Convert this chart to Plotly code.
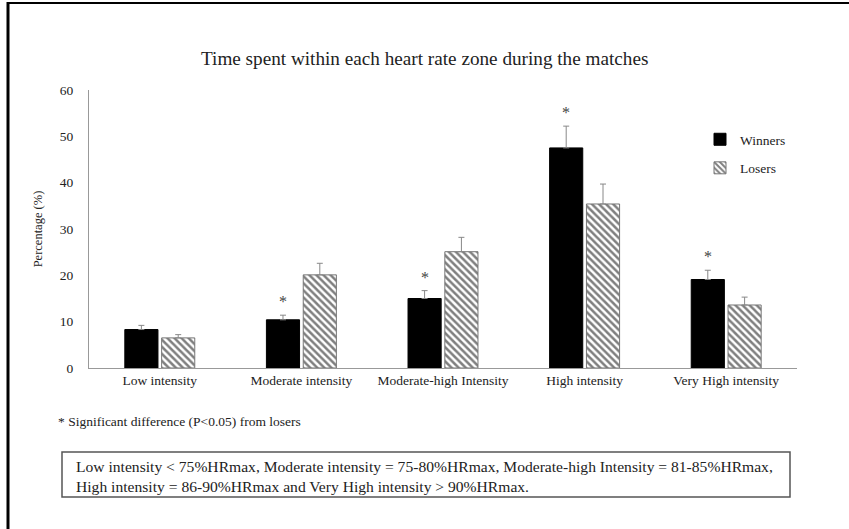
import plotly.graph_objects as go

categories = ["Low intensity", "Moderate intensity", "Moderate-high Intensity",
              "High intensity", "Very High intensity"]
winners = [8.3, 10.4, 15.0, 47.5, 19.1]
winners_err = [0.9, 1.0, 1.7, 4.7, 2.0]
losers = [6.5, 20.1, 25.1, 35.4, 13.6]
losers_err = [0.7, 2.5, 3.1, 4.3, 1.7]
significant = [False, True, True, True, True]

title = "Time spent within each heart rate zone during the matches"
y_title = "Percentage (%)"
footnote = "* Significant difference (P<0.05) from losers"
def_line1 = ("Low intensity < 75%HRmax, Moderate intensity = 75-80%HRmax, "
             "Moderate-high Intensity = 81-85%HRmax,")
def_line2 = "High intensity = 86-90%HRmax and Very High intensity > 90%HRmax."

W, H = 849, 529
L, R, T, B = 89, 797, 90, 368   # plot area in pixels
FONT = "Liberation Serif"

def px(xp):
    return (xp - L) / (R - L)

def py(yp):
    return (B - yp) / (B - T)

xs = list(range(len(categories)))
bargap = 0.48
groupgap = 0.1
slot = (1 - bargap) / 2

fig = go.Figure()
fig.add_trace(go.Bar(
    x=xs, y=winners, name="Winners",
    marker=dict(color="black", line=dict(color="black", width=1)),
    error_y=dict(type="data", array=winners_err, arrayminus=[0] * len(xs),
                 symmetric=False, color="#888888", thickness=1, width=3),
    legendgroup="w",
))
fig.add_trace(go.Bar(
    x=xs, y=losers, name="Losers",
    marker=dict(color="white", line=dict(color="#777777", width=1),
                pattern=dict(shape="\\", fgcolor="black", bgcolor="white",
                             size=5, solidity=0.5)),
    error_y=dict(type="data", array=losers_err, arrayminus=[0] * len(xs),
                 symmetric=False, color="#888888", thickness=1, width=3),
    legendgroup="l",
))

# significance stars above winners' error bars
for i, sig in enumerate(significant):
    if sig:
        fig.add_annotation(
            x=xs[i] - slot / 2, y=winners[i] + winners_err[i],
            xref="x", yref="y", text="*", showarrow=False,
            yanchor="bottom", yshift=3,
            font=dict(family=FONT, size=16, color="#444444"))

fig.add_annotation(x=px(424), xref="paper", y=py(58), yref="paper",
                   text=title, showarrow=False, xanchor="center", yanchor="middle",
                   font=dict(family=FONT, size=19.2, color="#222222"))
fig.add_annotation(x=px(56), xref="paper", y=py(421), yref="paper",
                   text=footnote, showarrow=False, xanchor="left", yanchor="middle",
                   font=dict(family=FONT, size=13.5, color="#222222"))
fig.add_annotation(x=px(74), xref="paper", y=py(466), yref="paper",
                   text=def_line1, showarrow=False, xanchor="left", yanchor="middle",
                   font=dict(family=FONT, size=15.6, color="#222222"))
fig.add_annotation(x=px(74), xref="paper", y=py(486), yref="paper",
                   text=def_line2, showarrow=False, xanchor="left", yanchor="middle",
                   font=dict(family=FONT, size=15.6, color="#222222"))

# definition box
fig.add_shape(type="rect", xref="paper", yref="paper",
              x0=px(62), x1=px(790), y0=py(452), y1=py(497),
              line=dict(color="#555555", width=1.5))
# outer frame (left and top edges)
fig.add_shape(type="line", xref="paper", yref="paper",
              x0=px(8), x1=px(8), y0=py(2), y1=py(535),
              line=dict(color="black", width=3))
fig.add_shape(type="line", xref="paper", yref="paper",
              x0=px(7), x1=px(855), y0=py(3), y1=py(3),
              line=dict(color="black", width=2))

fig.update_layout(
    width=W, height=H,
    margin=dict(l=L, r=W - R, t=T, b=H - B, pad=0),
    paper_bgcolor="white", plot_bgcolor="white",
    barmode="group", bargap=bargap, bargroupgap=groupgap,
    font=dict(family=FONT, size=12, color="#333333"),
    showlegend=True,
    legend=dict(x=px(700), y=py(124), xanchor="left", yanchor="top",
                bgcolor="rgba(0,0,0,0)", font=dict(family=FONT, size=13.5, color="#222222"),
                tracegroupgap=8, itemwidth=30, traceorder="grouped"),
    xaxis=dict(range=[-0.5, len(xs) - 0.5], tickmode="array", tickvals=xs,
               ticktext=categories, showgrid=False, zeroline=False,
               showline=True, linecolor="#999999", linewidth=1, ticks="",
               tickfont=dict(family=FONT, size=13.5, color="#222222")),
    yaxis=dict(range=[0, 60], tickvals=[0, 10, 20, 30, 40, 50, 60], showgrid=False,
               zeroline=False, showline=True, linecolor="#999999", linewidth=1,
               ticks="", ticklabelstandoff=12,
               tickfont=dict(family=FONT, size=13.5, color="#222222"),
               title=dict(text=y_title, standoff=14,
                          font=dict(family=FONT, size=12.5, color="#222222"))),
)

fig.write_html("out.html", config={"displayModeBar": False},
               post_script="document.body.style.margin='0';")
